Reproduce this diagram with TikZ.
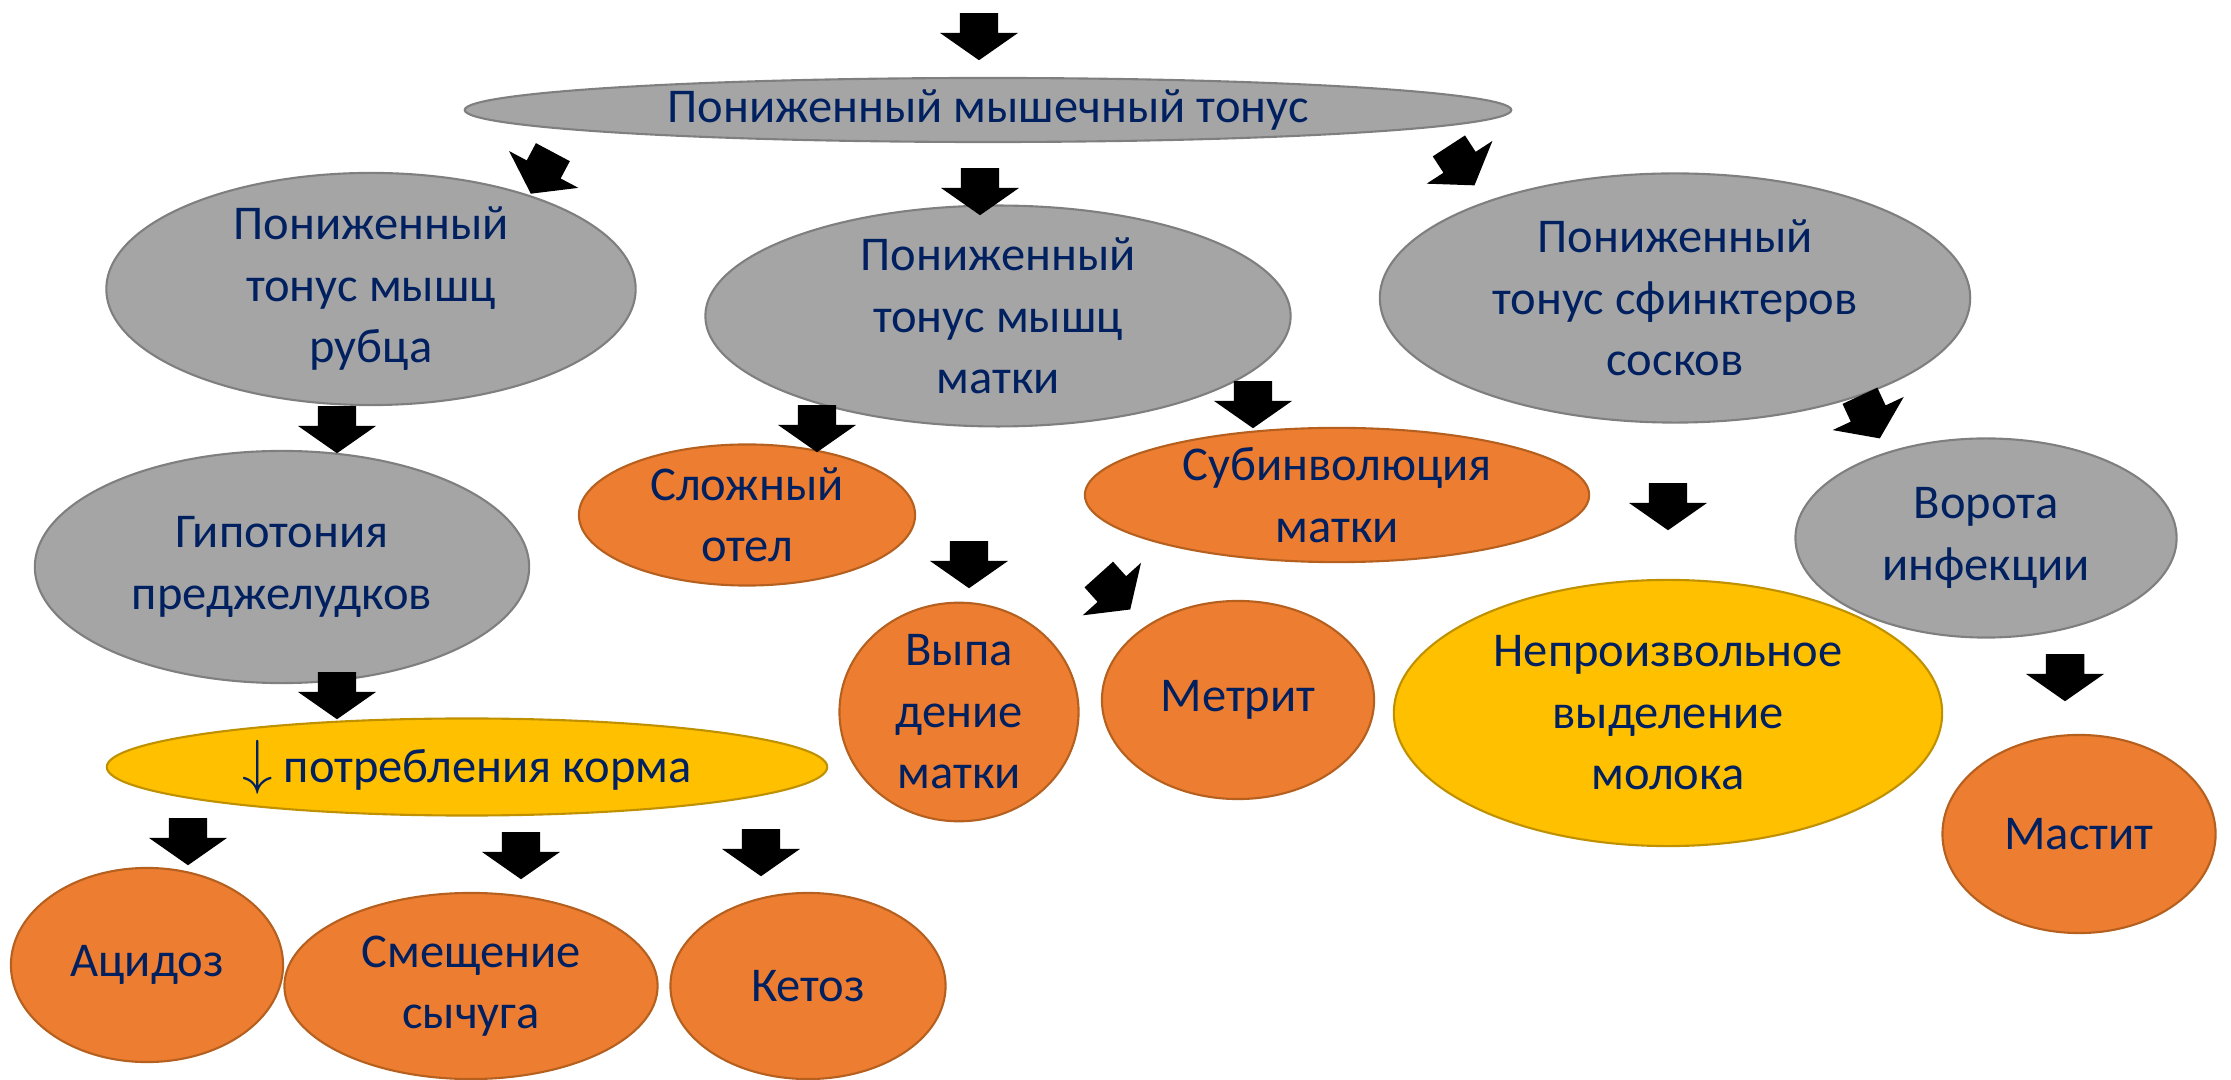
\documentclass[tikz,border=0pt]{standalone}
\usepackage{fontspec}
\setmainfont{Carlito}
\usepackage{xcolor}
\definecolor{cText}{HTML}{002060}
\definecolor{cGrey}{HTML}{A5A5A5}
\definecolor{cGreyLine}{HTML}{7F7F7F}
\definecolor{cOrange}{HTML}{ED7D31}
\definecolor{cOrangeLine}{HTML}{B5601F}
\definecolor{cYellow}{HTML}{FFC000}
\definecolor{cYellowLine}{HTML}{BF9000}
\usepackage{tikz}
\usetikzlibrary{positioning,shapes.geometric,shapes.arrows}
\tikzset{
  node-oval/.style={ellipse,inner sep=0pt,align=center,text=cText,
    font=\fontsize{13.8}{17.5}\selectfont,line width=0.6pt},
  node-grey/.style={node-oval,draw=cGreyLine,fill=cGrey},
  node-orange/.style={node-oval,draw=cOrangeLine,fill=cOrange},
  node-yellow/.style={node-oval,draw=cYellowLine,fill=cYellow},
  oval-size/.style 2 args={minimum width=#1cm,minimum height=#2cm},
  % black block arrows, not joined to the ovals
  block-arrow/.style={single arrow,fill=black,inner xsep=0pt,inner ysep=0.185cm,
    minimum height=0.47cm,
    single arrow head extend=0.2cm,single arrow tip angle=110},
}

\begin{document}
\begin{tikzpicture}[x=0.01cm,y=-0.01cm]
  \useasboundingbox (0,0) rectangle (2231,1080);

  \node[node-grey,oval-size={10.46}{0.64}] (t0) at (988,110) {Пониженный мышечный тонус};
  \node[node-grey,oval-size={5.29}{2.32}] (t1) at (371,289) {Пониженный\\тонус мышц\\рубца};
  \node[node-grey,oval-size={5.85}{2.06}] (t2) at (998,316) {Пониженный\\тонус мышц\\матки};
  \node[node-grey,oval-size={5.90}{2.49}] (t3) at (1675,298) {Пониженный\\тонус сфинктеров\\сосков};
  \node[node-grey,oval-size={4.94}{2.32}] (g1) at (282,567) {Гипотония\\преджелудков};
  \node[node-orange,oval-size={3.36}{1.41}] (o1) at (747,515) {Сложный\\отел};
  \node[node-orange,oval-size={5.04}{1.28}] (o2) at (1337,495) {Субинволюция\\матки};
  \node[node-grey,oval-size={3.81}{1.99}] (g2) at (1986,538) {Ворота\\инфекции};
  \node[node-yellow,oval-size={7.20}{0.97}] (y1) at (467,767)
    {{\fontsize{18}{18}\selectfont$\downarrow$} потребления корма};
  \node[node-orange,oval-size={2.39}{2.06}] (o3) at (959,712) {Выпа\\дение\\матки};
  \node[node-orange,oval-size={2.72}{1.98}] (o4) at (1238,700) {Метрит};
  \node[node-yellow,oval-size={5.48}{2.66}] (y2) at (1668,713) {Непроизвольное\\выделение\\молока};
  \node[node-orange,oval-size={2.73}{1.98}] (o5) at (2079,834) {Мастит};
  \node[node-orange,oval-size={2.72}{1.94}] (o6) at (147,965) {Ацидоз};
  \node[node-orange,oval-size={3.73}{1.86}] (o7) at (471,986) {Смещение\\сычуга};
  \node[node-orange,oval-size={2.75}{1.86}] (o8) at (808,986) {Кетоз};

  \node[block-arrow,rotate=-90] (a0) at (979,30) {};
  \node[block-arrow,rotate=-118] (a1) at (545,167) {};
  \node[block-arrow,rotate=-90] (a2) at (980,185) {};
  \node[block-arrow,rotate=-57] (a3) at (1458,160) {};
  \node[block-arrow,rotate=-90] (a4) at (337,423) {};
  \node[block-arrow,rotate=-90] (a5) at (817,422) {};
  \node[block-arrow,rotate=-90] (a6) at (1253,398) {};
  \node[block-arrow,rotate=-65] (a7) at (1867,411) {};
  \node[block-arrow,rotate=-90] (a8) at (337,689) {};
  \node[block-arrow,rotate=-90] (a9) at (969,558) {};
  \node[block-arrow,rotate=-48] (a10) at (1110,587) {};
  \node[block-arrow,rotate=-90] (a11) at (1668,500) {};
  \node[block-arrow,rotate=-90] (a12) at (2065,671) {};
  \node[block-arrow,rotate=-90] (a13) at (188,835) {};
  \node[block-arrow,rotate=-90] (a14) at (521,849) {};
  \node[block-arrow,rotate=-90] (a15) at (761,846) {};
\end{tikzpicture}
\end{document}
